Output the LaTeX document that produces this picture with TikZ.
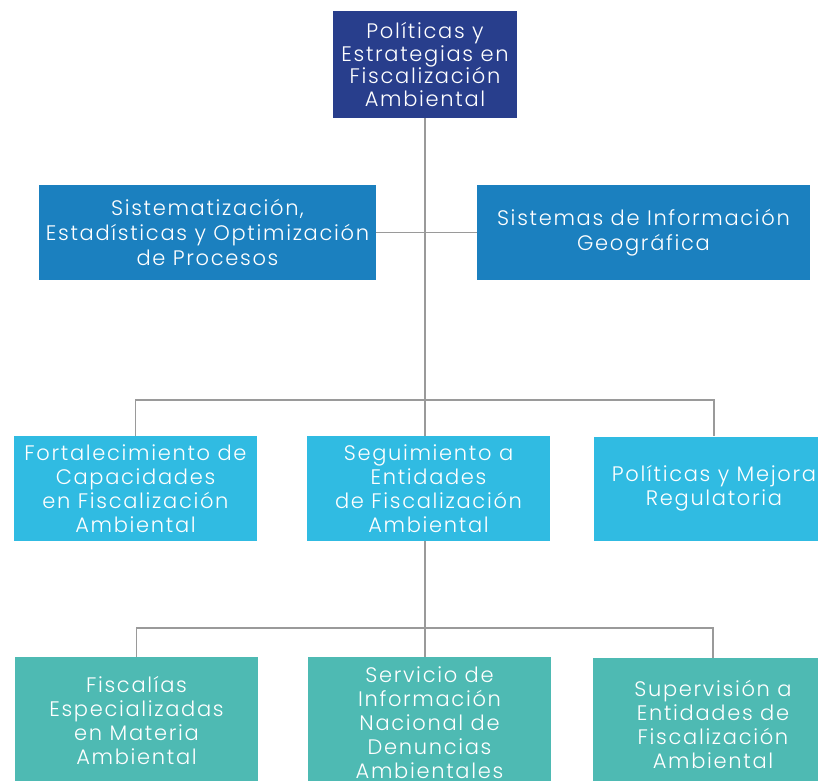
\documentclass[tikz,border=0pt]{standalone}
\usepackage{fontspec}
\setmainfont{Poppins}[UprightFont={* Light},LetterSpace=8]
\definecolor{cTop}{HTML}{283E8C}
\definecolor{cTwo}{HTML}{1B80BF}
\definecolor{cThree}{HTML}{30BBE2}
\definecolor{cFour}{HTML}{4EBAB3}
\definecolor{cLine}{HTML}{9A9A9A}
\begin{document}
\begin{tikzpicture}[x=1pt,y=-1pt,
  box/.style={rectangle,inner sep=0pt,text=white,align=center,font=\fontsize{21}{24}\selectfont},
  conn/.style={draw=cLine,line width=1.4pt}]
\useasboundingbox (0,0) rectangle (818,780);
\clip (0,0) rectangle (818,780);
\node[box,fill=cTop,minimum width=184pt,minimum height=107pt,font=\fontsize{21}{22.5}\selectfont] (top) at (425,64.5) {Políticas y\\Estrategias en\\Fiscalización\\Ambiental};
\node[box,fill=cTwo,minimum width=337pt,minimum height=95pt,font=\fontsize{21}{25}\selectfont] (sis) at (207.5,232.5) {Sistematización,\\Estadísticas y Optimización\\de Procesos};
\node[box,fill=cTwo,minimum width=333pt,minimum height=95pt,font=\fontsize{21}{25}\selectfont] (geo) at (643.5,232.5) {Sistemas de Información\\Geográfica};
\node[box,fill=cThree,minimum width=243pt,minimum height=105pt] (fort) at (135.5,488.5) {Fortalecimiento de\\Capacidades\\en Fiscalización\\Ambiental};
\node[box,fill=cThree,minimum width=243pt,minimum height=105pt] (seg) at (428.5,488.5) {Seguimiento a\\Entidades\\de Fiscalización\\Ambiental};
\node[box,fill=cThree,minimum width=240pt,minimum height=104pt] (pol) at (714,488.5) {Políticas y Mejora\\Regulatoria};
\node[box,fill=cFour,minimum width=243pt,minimum height=126pt] (fis) at (136.5,720) {Fiscalías\\Especializadas\\en Materia\\Ambiental};
\node[box,fill=cFour,minimum width=243pt,minimum height=132pt] (ser) at (429.5,723) {Servicio de\\Información\\Nacional de\\Denuncias\\Ambientales};
\node[box,fill=cFour,minimum width=240pt,minimum height=132pt] (sup) at (713,724) {Supervisión a\\Entidades de\\Fiscalización\\Ambiental};
\coordinate (b3) at (425,400);
\coordinate (b4) at (425,628);
\path[conn] (top.south) -- (b3);
\path[conn] (sis.east) -- (geo.west);
\path[conn] (fort.north) |- (b3) -| (pol.north);
\path[conn] (b3) -- (b3 |- seg.north);
\path[conn] (b3 |- seg.south) -- (b4);
\path[conn] (fis.north) |- (b4) -| (sup.north);
\path[conn] (b4) -- (b4 |- ser.north);
\end{tikzpicture}
\end{document}
